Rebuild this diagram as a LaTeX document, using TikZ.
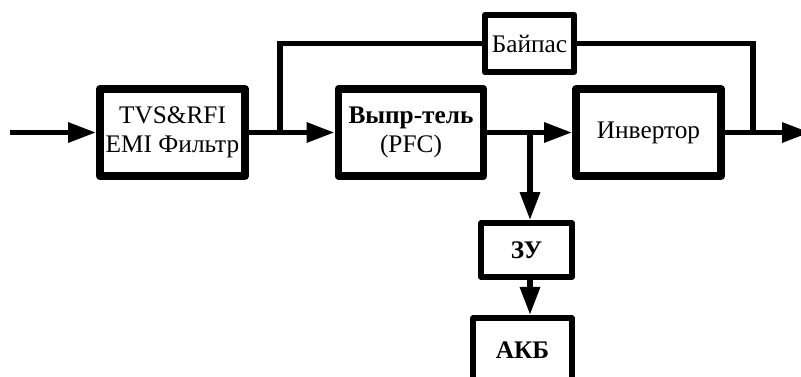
\documentclass[tikz,border=0pt]{standalone}
\usepackage{fontspec}
\setmainfont{Liberation Serif}
\newfontfamily\tnr{Liberation Serif}
\usetikzlibrary{arrows.meta}
\begin{document}
\begin{tikzpicture}[x=0.025cm,y=-0.025cm,
    font=\tnr\fontsize{18}{21}\selectfont,
    blk/.style={draw,line width=5.6pt,line join=round,align=center,
      minimum width=3.625cm,minimum height=2.175cm,inner sep=0pt},
    sblk/.style={draw,line width=4.3pt,line join=round,align=center,inner sep=0pt},
    wire/.style={line width=3.9pt},
    arr/.style={wire,-{Triangle[length=7mm,width=4.8mm]}}]
  \useasboundingbox (0,0) rectangle (801,376);
  \draw
    (172.5,132.5) node[blk] (filt){TVS\&RFI\\EMI Фильтр}
    (411,132.5) node[blk] (rect){\textbf{Выпр-тель}\\(PFC)}
    (648.5,132.5) node[blk] (inv){Инвертор}
    (529.5,43.5) node[sblk,minimum width=2.24cm,minimum height=1.44cm] (byp){Байпас}
    (526.5,250) node[sblk,minimum width=2.26cm,minimum height=1.34cm] (zu){\textbf{ЗУ}}
    (522.5,350) node[sblk,minimum width=2.46cm,minimum height=1.6cm] (akb){\textbf{АКБ}};
  \coordinate (in) at (10,132.5);
  \coordinate (j1) at (280,132.5);
  \coordinate (j2) at (530,132.5);
  \coordinate (j3) at (753,132.5);
  \coordinate (out) at (810,132.5);
  \begin{scope}
    \draw[arr] (in) to (filt);
    \draw[wire] (filt) to (j1);
    \draw[arr] (j1) to (rect);
    \draw[wire] (j1) |- (byp);
    \draw[wire] (byp) -| (j3);
    \draw[wire] (rect) to (j2);
    \draw[arr] (j2) to (inv);
    \draw[arr] (j2) to (j2 |- zu.north);
    \draw[arr] (j2 |- zu.south) to (j2 |- akb.north);
    \draw[wire] (inv) to (j3);
    \draw[arr] (j3) to (out);
  \end{scope}
\end{tikzpicture}
\end{document}
